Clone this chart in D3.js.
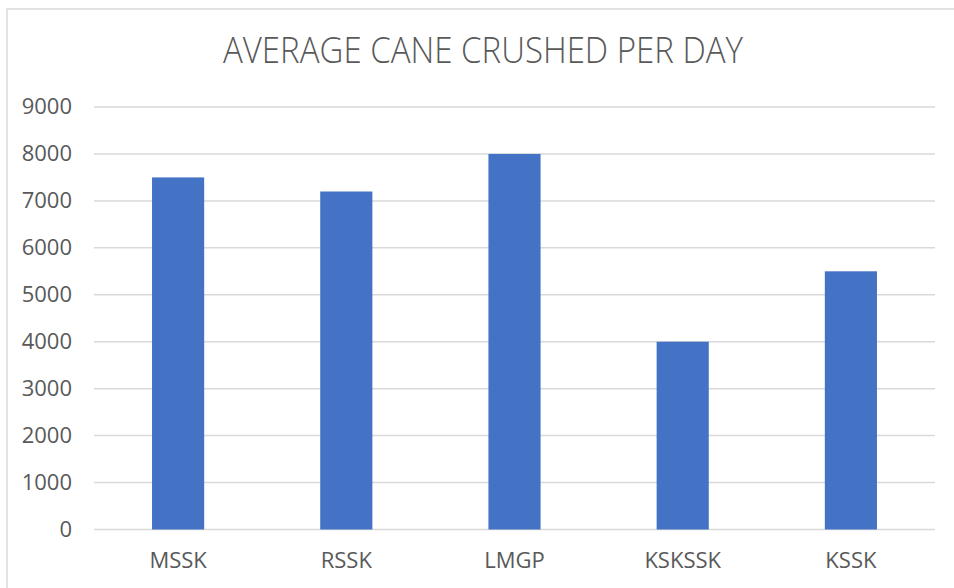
<!DOCTYPE html>
<html>
<head>
<meta charset="utf-8">
<script src="https://cdn.jsdelivr.net/npm/d3@7"></script>
<style>
  html, body { margin: 0; padding: 0; background: #fff; }
  svg { display: block; }
</style>
</head>
<body>
<svg id="chart" width="954" height="588"></svg>
<script>
const categories = ["MSSK", "RSSK", "LMGP", "KSKSSK", "KSSK"];
const values = [7500, 7200, 8000, 4000, 5500];
const yTicks = [0, 1000, 2000, 3000, 4000, 5000, 6000, 7000, 8000, 9000];
const title = "AVERAGE CANE CRUSHED PER DAY";

const svg = d3.select("#chart");
const W = 954, H = 588;
const plot = { left: 94, right: 935, top: 107, bottom: 529.5 };

svg.append("rect").attr("x", 0).attr("y", 0).attr("width", W).attr("height", H).attr("fill", "#fff");
// chart border (extends beyond the visible window on right/bottom)
svg.append("rect")
  .attr("x", 7).attr("y", 9).attr("width", W + 20).attr("height", H + 20)
  .attr("fill", "none").attr("stroke", "#d9d9d9").attr("stroke-width", 1.5);

const x = d3.scaleBand().domain(categories).range([plot.left, plot.right]).paddingInner(0.69).paddingOuter(0.345);
const y = d3.scaleLinear().domain([0, 9000]).range([plot.bottom, plot.top]);

// gridlines
svg.append("g").selectAll("line").data(yTicks).join("line")
  .attr("x1", plot.left).attr("x2", plot.right)
  .attr("y1", d => y(d)).attr("y2", d => y(d))
  .attr("stroke", "#d9d9d9").attr("stroke-width", 1.5);

// bars
svg.append("g").selectAll("rect").data(values).join("rect")
  .attr("x", (d, i) => x(categories[i]))
  .attr("width", x.bandwidth())
  .attr("y", d => y(d))
  .attr("height", d => y(0) - y(d))
  .attr("fill", "#4472c4");

// y axis labels
const yAxis = d3.axisLeft(y).tickValues(yTicks).tickSize(0).tickPadding(0).tickFormat(d3.format("d"));
const gy = svg.append("g").attr("transform", `translate(72,0)`).call(yAxis);
gy.select(".domain").remove();
gy.selectAll("text")
  .attr("font-family", "'Open Sans', sans-serif")
  .attr("font-size", 22).attr("fill", "#595959").attr("dy", "0.3em");

// x axis labels
const xAxis = d3.axisBottom(x).tickSize(0).tickPadding(0);
const gx = svg.append("g").attr("transform", `translate(0,${plot.bottom})`).call(xAxis);
gx.select(".domain").remove();
gx.selectAll("text")
  .attr("font-family", "'Open Sans', sans-serif")
  .attr("font-size", 22).attr("fill", "#595959")
  .attr("y", 38.8).attr("dy", 0);

// title
svg.append("text")
  .attr("x", 483).attr("y", 63.3)
  .attr("text-anchor", "middle")
  .attr("font-family", "'Open Sans', sans-serif")
  .attr("font-weight", 300)
  .attr("font-size", 37)
  .attr("fill", "#595959")
  .attr("textLength", 520).attr("lengthAdjust", "spacingAndGlyphs")
  .text(title);
</script>
</body>
</html>
